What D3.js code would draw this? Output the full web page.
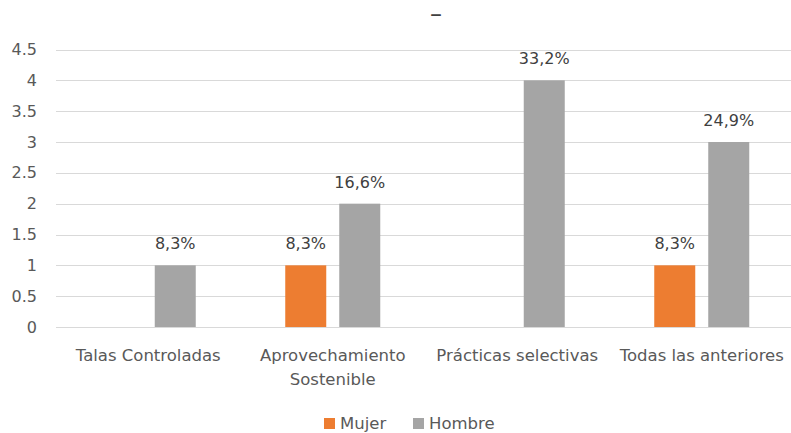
<!DOCTYPE html>
<html>
<head>
<meta charset="utf-8">
<script src="https://cdn.jsdelivr.net/npm/d3@7"></script>
<style>
  html, body { margin: 0; padding: 0; background: #fff; }
  svg { display: block; font-family: "DejaVu Sans", sans-serif; }
</style>
</head>
<body>
<svg id="chart" width="791" height="433"></svg>
<script>
const categories = ["Talas Controladas", "Aprovechamiento Sostenible", "Prácticas selectivas", "Todas las anteriores"];
const seriesNames = ["Mujer", "Hombre"];
const mujerValues = [0, 1, 0, 1];
const hombreValues = [1, 2, 4, 3];
const mujerLabels = ["", "8,3%", "", "8,3%"];
const hombreLabels = ["8,3%", "16,6%", "33,2%", "24,9%"];
const yTicks = [0, 0.5, 1, 1.5, 2, 2.5, 3, 3.5, 4, 4.5];
const colors = { "Mujer": "#ED7D31", "Hombre": "#A5A5A5" };
const titleText = "–";

const svg = d3.select("#chart");
const W = 791, H = 433;
const margin = { left: 56, right: -3, top: 49.5, bottom: 106 };
const plotL = margin.left, plotR = W - margin.right;
const plotT = margin.top, plotB = H - margin.bottom;

const seriesData = {
  "Mujer": { values: mujerValues, labels: mujerLabels },
  "Hombre": { values: hombreValues, labels: hombreLabels }
};

const y = d3.scaleLinear().domain([0, 4.5]).range([plotB, plotT]);
const x0 = d3.scaleBand().domain(categories).range([plotL, plotR]).padding(0);
const groupW = 95;
const x1 = d3.scaleBand().domain(seriesNames)
  .range([(x0.bandwidth() - groupW) / 2, (x0.bandwidth() + groupW) / 2])
  .paddingInner(0.2407).paddingOuter(0);

// title remnant
svg.append("text").attr("x", 436).attr("y", 22).attr("text-anchor", "middle")
  .attr("font-size", 24).attr("fill", "#404040").text(titleText);

// gridlines
svg.append("g").selectAll("line").data(yTicks).join("line")
  .attr("x1", plotL).attr("x2", plotR)
  .attr("y1", d => Math.round(y(d)) + 0.5).attr("y2", d => Math.round(y(d)) + 0.5)
  .attr("stroke", "#D9D9D9").attr("stroke-width", 1);

// y axis labels
const yAxis = d3.axisLeft(y).tickValues(yTicks).tickSize(0).tickPadding(0)
  .tickFormat(d => String(d));
const gy = svg.append("g").attr("transform", `translate(${37},0)`).call(yAxis);
gy.select(".domain").remove();
gy.selectAll("text").attr("font-size", 16).attr("fill", "#595959")
  .attr("font-family", "DejaVu Sans, sans-serif");

// bars
const groups = svg.append("g").selectAll("g").data(categories).join("g")
  .attr("transform", d => `translate(${x0(d)},0)`);

seriesNames.forEach(s => {
  groups.append("rect")
    .attr("x", x1(s))
    .attr("width", x1.bandwidth())
    .attr("y", (d, i) => y(seriesData[s].values[i]))
    .attr("height", (d, i) => y(0) - y(seriesData[s].values[i]))
    .attr("fill", colors[s]);
  groups.append("text")
    .attr("x", x1(s) + x1.bandwidth() / 2)
    .attr("y", (d, i) => y(seriesData[s].values[i]) - 16)
    .attr("text-anchor", "middle")
    .attr("font-size", 16)
    .attr("fill", "#404040")
    .text((d, i) => seriesData[s].labels[i]);
});

// category labels with wrapping
const catFont = 16.5;
const xAxisG = svg.append("g");
categories.forEach(c => {
  const t = xAxisG.append("text")
    .attr("x", x0(c) + x0.bandwidth() / 2)
    .attr("y", 361)
    .attr("text-anchor", "middle")
    .attr("font-size", catFont)
    .attr("fill", "#595959");
  const words = c.split(" ");
  let line = [], lines = [];
  const probe = t.append("tspan");
  words.forEach(w => {
    const test = line.concat([w]).join(" ");
    probe.text(test);
    if (probe.node().getComputedTextLength() > x0.bandwidth() - 8 && line.length) {
      lines.push(line.join(" "));
      line = [w];
    } else {
      line.push(w);
    }
  });
  lines.push(line.join(" "));
  probe.remove();
  lines.forEach((l, i) => {
    t.append("tspan").attr("x", x0(c) + x0.bandwidth() / 2)
      .attr("dy", i === 0 ? 0 : 24).text(l);
  });
});

// legend
const legendItems = [
  { name: "Mujer", x: 324 },
  { name: "Hombre", x: 413 }
];
const lg = svg.append("g");
legendItems.forEach(it => {
  lg.append("rect").attr("x", it.x).attr("y", 418).attr("width", 11).attr("height", 11)
    .attr("fill", colors[it.name]);
  lg.append("text").attr("x", it.x + 16).attr("y", 428.5)
    .attr("font-size", 16.5).attr("fill", "#595959").text(it.name);
});
</script>
</body>
</html>
